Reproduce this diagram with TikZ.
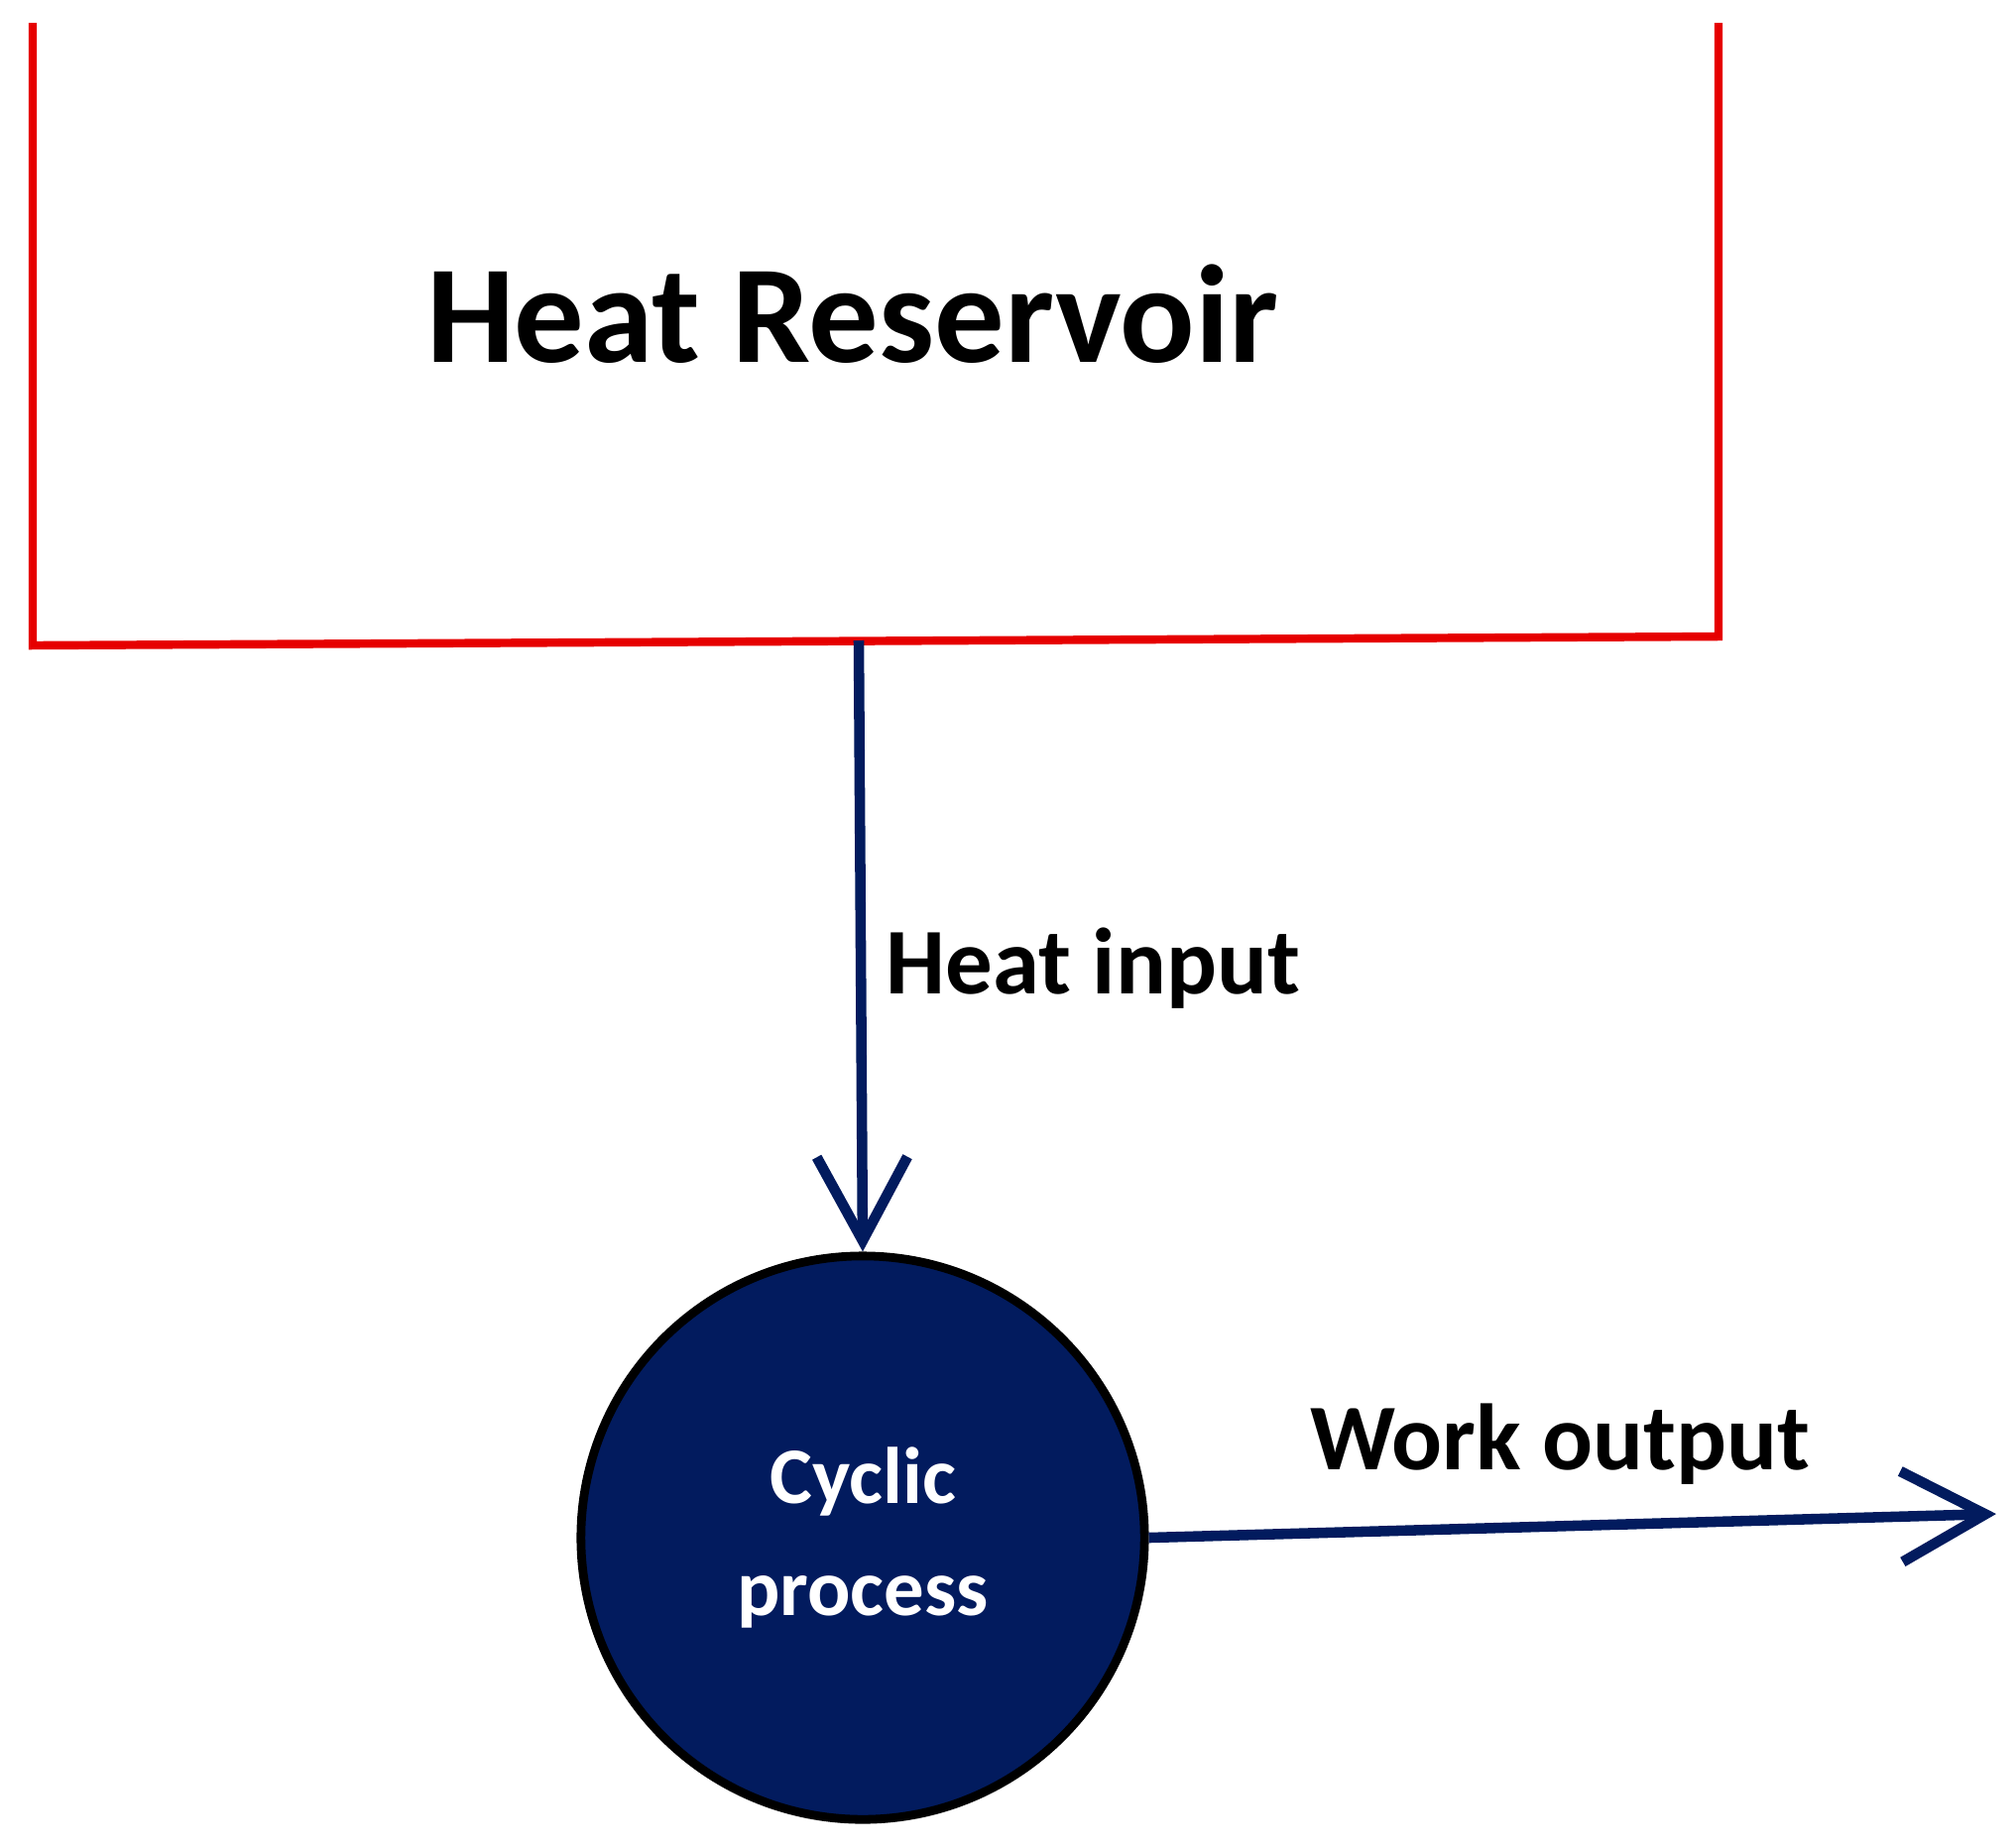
\documentclass[tikz,border=0pt]{standalone}
\usepackage{fontspec}
\setmainfont{Carlito}
\usetikzlibrary{arrows.meta}
\definecolor{navy}{RGB}{2,27,94}
\definecolor{resred}{RGB}{230,0,0}
\begin{document}
\begin{tikzpicture}[x=0.01cm,y=-0.01cm,
  flow/.style={draw=navy,line width=3pt,-{Straight Barb[length=24pt,width=26pt,line width=3pt]}},
  lbl/.style={font=\fontsize{27}{32}\selectfont\bfseries,inner sep=0pt}]
\useasboundingbox (0,0) rectangle (2033,1862);
\draw[resred,line width=2.4pt] (33,23) -- (33,651) -- (1733,642) -- (1733,23);
\node[font=\fontsize{40}{48}\selectfont\bfseries] (hr) at (860,317) {Heat Reservoir};
\coordinate (src) at (866,646);
\node[circle,draw=black,line width=2.5pt,fill=navy,minimum size=5.68cm,inner sep=0pt] (cp) at (870,1551) {};
\node[text=white,font=\fontsize{23}{32}\selectfont\bfseries,align=center] at (cp) {Cyclic\\process};
\draw[flow] (src) -- (cp.north);
\node[lbl,anchor=west] at (893,977) {Heat input};
\coordinate (out) at (2013,1527);
\draw[flow] (cp.east) -- (out);
\node[lbl] at (1573,1457) {Work output};
\end{tikzpicture}
\end{document}
